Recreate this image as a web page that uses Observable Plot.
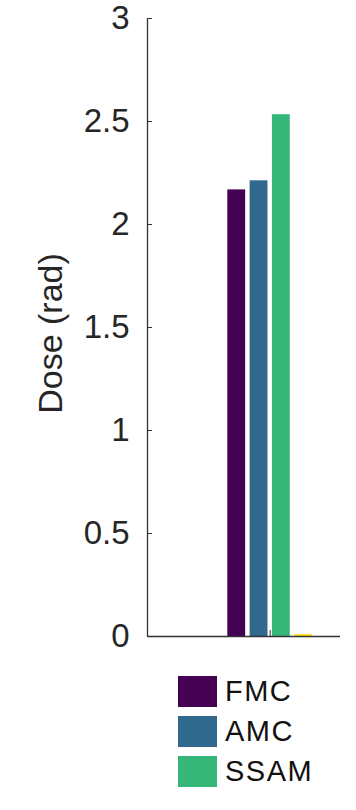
<!DOCTYPE html>
<html><head><meta charset="utf-8">
<script src="https://cdn.jsdelivr.net/npm/d3@7"></script>
<script src="https://cdn.jsdelivr.net/npm/@observablehq/plot@0.6"></script>
<style>
body{margin:0;background:#fff;font-family:"Liberation Sans",Arial,Helvetica,sans-serif;}
#wrap{position:relative;width:356px;height:810px;overflow:hidden;}
#legend{position:absolute;left:178px;top:675px;color:#111;}
.item{display:flex;align-items:center;height:32px;margin-bottom:8px;font-size:29px;line-height:29px;letter-spacing:1.5px;}
.item:nth-child(3){margin-top:7px;}
.sw{width:39px;height:31px;margin-right:8px;box-sizing:border-box;}
</style></head><body><div id="wrap"></div>
<script>
const series = ["FMC", "AMC", "SSAM", "Other"];
const doses = [2.168, 2.212, 2.533, 0.01];
const colors = ["#440154", "#31688e", "#35b779", "#fde725"];
const legendSeries = ["FMC", "AMC", "SSAM"];
const yTicks = [0, 0.5, 1, 1.5, 2, 2.5, 3];
const yTickLabels = ["0", "0.5", "1", "1.5", "2", "2.5", "3"];
const yLabel = "Dose (rad)";
const groupCenter = 1;

const n = series.length;
const groupWidth = Math.min(0.8, n / (n + 1.5));
const slot = groupWidth / n;
const barW = slot * 0.8;
const data = series.map((s, i) => {
  const c = groupCenter + (i - (n - 1) / 2) * slot;
  return {series: s, dose: doses[i], x1: c - barW / 2, x2: c + barW / 2};
});

const axisColor = "#333333";
const chart = Plot.plot({
  width: 356,
  height: 660,
  marginTop: 18,
  marginLeft: 147,
  marginRight: 16,
  marginBottom: 24,
  style: {fontSize: "33px", fontFamily: "'Liberation Sans', Arial, sans-serif", color: "#262626", background: "#fff"},
  x: {domain: [0, 1.573]},
  y: {domain: [0, 3]},
  color: {domain: series, range: colors},
  marks: [
    Plot.rectY(data, {x1: "x1", x2: "x2", y1: 0, y2: "dose", fill: "series"}),
    Plot.ruleY([0], {stroke: axisColor, strokeWidth: 1.3}),
    Plot.ruleX([0], {stroke: axisColor, strokeWidth: 1.3}),
    Plot.axisY({ticks: yTicks, tickFormat: (d) => yTickLabels[yTicks.indexOf(d)], tickSize: -5, tickPadding: 23,
      stroke: axisColor, fill: "#262626", fontSize: 33, label: null}),
    Plot.text([yLabel], {text: (d) => d, frameAnchor: "left", rotate: -90, lineAnchor: "top", textAnchor: "middle",
      dx: -110, dy: 6, fontSize: 34, fill: "#262626"}),
    Plot.axisX({ticks: [groupCenter], tickSize: -6, tickFormat: () => "", stroke: axisColor, label: null})
  ]
});
const wrap = document.getElementById("wrap");
wrap.appendChild(chart);

const legend = document.createElement("div");
legend.id = "legend";
legendSeries.forEach((s) => {
  const it = document.createElement("div");
  it.className = "item";
  const sw = document.createElement("div");
  sw.className = "sw";
  sw.style.background = colors[series.indexOf(s)];
  const tx = document.createElement("span");
  tx.textContent = s;
  it.appendChild(sw);
  it.appendChild(tx);
  legend.appendChild(it);
});
wrap.appendChild(legend);
</script></body></html>
